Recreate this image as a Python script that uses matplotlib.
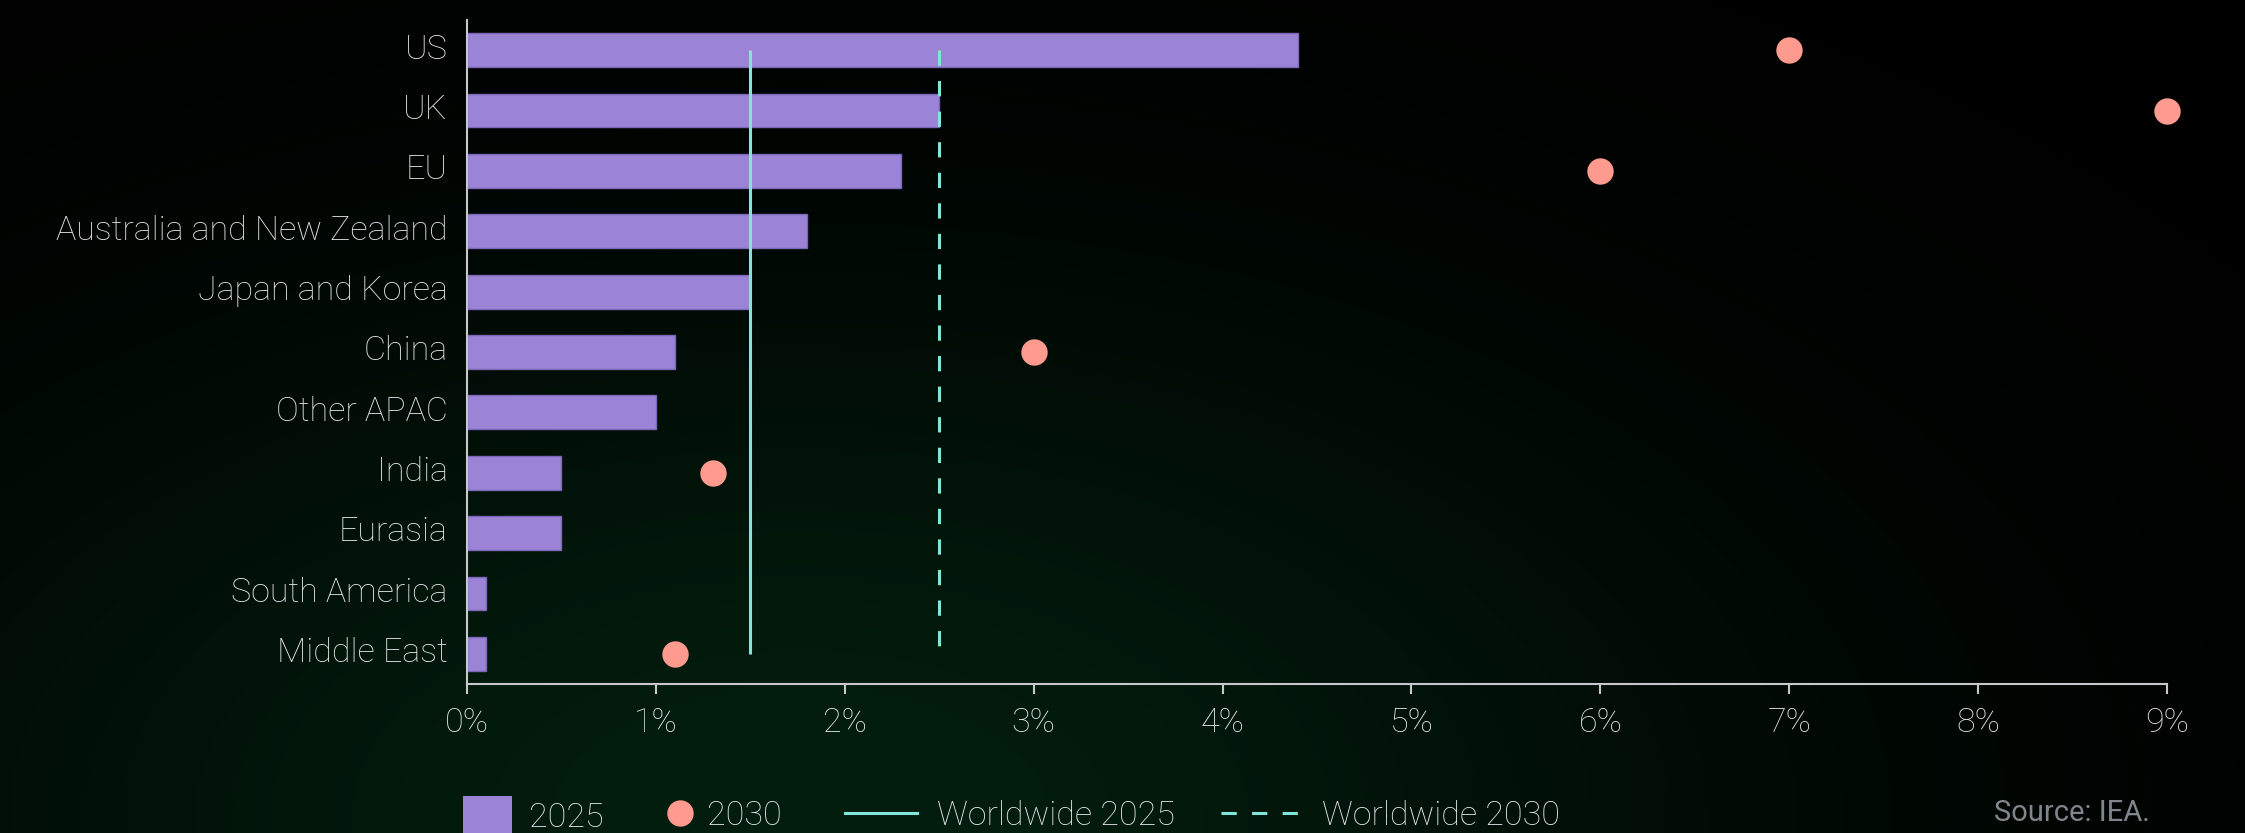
import numpy as np
import matplotlib
matplotlib.use("Agg")
import matplotlib.pyplot as plt
import matplotlib.transforms as mtransforms
from matplotlib.patches import Patch
from matplotlib.lines import Line2D

# ---------------- data ----------------
categories = ["US", "UK", "EU", "Australia and New Zealand", "Japan and Korea",
              "China", "Other APAC", "India", "Eurasia", "South America", "Middle East"]
values_2025 = [4.4, 2.5, 2.3, 1.8, 1.5, 1.1, 1.0, 0.5, 0.5, 0.1, 0.1]
values_2030 = [7.0, 9.0, 6.0, np.nan, np.nan, 3.0, np.nan, 1.3, np.nan, np.nan, 1.1]
worldwide_2025 = 1.5
worldwide_2030 = 2.5
x_ticks = [0, 1, 2, 3, 4, 5, 6, 7, 8, 9]
x_tick_labels = [f"{t}%" for t in x_ticks]
legend_labels = ["2025", "2030", "Worldwide 2025", "Worldwide 2030"]
source_text = "Source: IEA."

# ---------------- style ----------------
BAR = "#9b84d6"
BAR_EDGE = "#7b66b8"
DOT = "#ff9a8e"
LINE = "#80e6da"
TXT = "#e2e2e6"
SPINE = "#c8c8cc"
FONT = ["Roboto", "DejaVu Sans"]
plt.rcParams["font.family"] = FONT
plt.rcParams["font.weight"] = "light"
FS = 24.5

W, H = 2245, 833
DPI = 100
fig = plt.figure(figsize=(W / DPI, H / DPI), dpi=DPI)

# background glow
bg = fig.add_axes([0, 0, 1, 1], zorder=-10)
yy, xx = np.mgrid[0:H, 0:W]
inten = np.exp(-(((xx - 800) / 950.0) ** 2 + ((yy - 820) / 520.0) ** 2))
peak = np.array([3, 30, 14]) / 255.0
img = inten[..., None] * peak[None, None, :]
bg.imshow(img, aspect="auto", extent=[0, 1, 0, 1], interpolation="bilinear")
bg.set_axis_off()

ax = fig.add_axes([467 / W, 1 - 684 / H, (2167 - 467) / W, (684 - 20) / H])
ax.patch.set_alpha(0)

ypos = np.arange(len(categories))
ax.barh(ypos, values_2025, height=0.56, color=BAR, edgecolor=BAR_EDGE,
        linewidth=1.0, zorder=2)
ax.vlines(worldwide_2025, ypos[0], ypos[-1], colors=LINE, linewidth=2.2, zorder=3)
ax.vlines(worldwide_2030, ypos[0], ypos[-1], colors=LINE, linewidth=2.2,
          linestyles=(0, (5, 5)), zorder=3)
ax.plot(values_2030, ypos, "o", ms=19, color=DOT, markeredgewidth=0,
        clip_on=False, zorder=4)

ax.set_xlim(0, 9)
ax.set_ylim(len(categories) - 0.5, -0.5)
ax.set_xticks(x_ticks)
ax.set_xticklabels(x_tick_labels)
ax.set_yticks(ypos)
ax.set_yticklabels(categories)
ax.tick_params(axis="x", colors=SPINE, labelcolor=TXT, labelsize=FS,
               length=7.5, width=1.5, direction="out", pad=9)
ax.tick_params(axis="y", length=0, labelcolor=TXT, labelsize=FS, pad=14)
up = mtransforms.ScaledTranslation(0, 3 / 72, fig.dpi_scale_trans)
for lab in ax.get_yticklabels():
    lab.set_transform(lab.get_transform() + up)
for s in ["top", "right"]:
    ax.spines[s].set_visible(False)
for s in ["left", "bottom"]:
    ax.spines[s].set_color(SPINE)
    ax.spines[s].set_linewidth(1.5)

# legends (one per entry so each swatch gets its own length)
ly = 1 - 816 / H
common = dict(frameon=False, fontsize=FS, labelcolor=TXT, borderpad=0,
              borderaxespad=0, loc="center left")
fig.legend([Patch(facecolor=BAR, edgecolor="none")], [legend_labels[0]],
           bbox_to_anchor=(463 / W, ly), handlelength=1.44, handleheight=1.44,
           handletextpad=0.5, **common)
fig.legend([Line2D([], [], marker="o", ms=19, color=DOT, linestyle="none",
                   markeredgewidth=0)], [legend_labels[1]],
           bbox_to_anchor=(666 / W, ly), handlelength=0.8, handletextpad=0.4,
           **common)
fig.legend([Line2D([], [], color=LINE, lw=2.2)], [legend_labels[2]],
           bbox_to_anchor=(845 / W, ly), handlelength=2.13, handletextpad=0.57,
           **common)
fig.legend([Line2D([], [], color=LINE, lw=2.2, linestyle=(0, (5, 5)))],
           [legend_labels[3]],
           bbox_to_anchor=(1221 / W, ly), handlelength=2.25, handletextpad=0.72,
           **common)

fig.text(2150 / W, 1 - 813 / H, source_text, ha="right", va="center",
         color="#80868e", fontsize=21, fontweight="normal")

fig.savefig("out.png", dpi=DPI, facecolor="black")
